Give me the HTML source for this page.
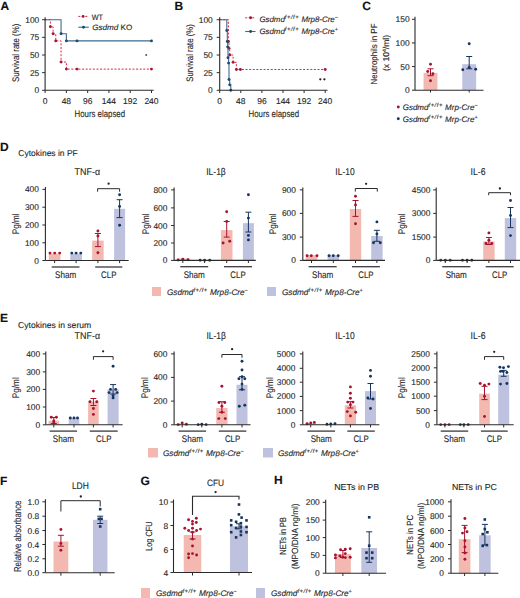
<!DOCTYPE html>
<html><head><meta charset="utf-8"><style>
html,body{margin:0;padding:0;background:#fff;overflow:hidden;}
svg{display:block;}
text{font-family:"Liberation Sans", sans-serif; stroke:currentColor; stroke-width:0.12px; font-variant-ligatures:none; text-rendering:geometricPrecision;}
</style></head><body>
<svg width="520" height="598" viewBox="0 0 520 598">
<rect x="0" y="0" width="520" height="598" fill="#ffffff"/>
<text x="0.60" y="9.90" font-size="12" text-anchor="start" fill="#111" color="#111" font-weight="bold">A</text>
<path d="M45.10 19.70 H50.42 V26.76 H53.08 V33.82 H55.74 V40.88 H61.06 V62.06 H66.38 V69.12 H151.49" stroke="#d42a45" stroke-width="1.0" stroke-dasharray="2,1.6" fill="none"/>
<circle cx="50.42" cy="26.76" r="1.45" fill="#a8132f"/>
<circle cx="53.08" cy="33.82" r="1.45" fill="#a8132f"/>
<circle cx="55.74" cy="40.88" r="1.45" fill="#a8132f"/>
<circle cx="61.06" cy="62.06" r="1.45" fill="#a8132f"/>
<circle cx="66.38" cy="69.12" r="1.45" fill="#a8132f"/>
<circle cx="77.02" cy="69.12" r="1.45" fill="#a8132f"/>
<circle cx="151.49" cy="69.12" r="1.45" fill="#a8132f"/>
<path d="M45.10 19.70 H61.06 V33.82 H66.38 V40.88 H151.49" stroke="#3d6a90" stroke-width="1.1" fill="none"/>
<circle cx="61.06" cy="33.82" r="1.45" fill="#1d4a6e"/>
<circle cx="66.38" cy="40.88" r="1.45" fill="#1d4a6e"/>
<circle cx="77.02" cy="40.88" r="1.45" fill="#1d4a6e"/>
<circle cx="151.49" cy="40.88" r="1.45" fill="#1d4a6e"/>
<line x1="45.10" y1="17.20" x2="45.10" y2="90.30" stroke="#2a2a2a" stroke-width="1.1" stroke-linecap="butt"/>
<line x1="42.10" y1="19.70" x2="45.10" y2="19.70" stroke="#2a2a2a" stroke-width="1.0" stroke-linecap="butt"/>
<text x="39.25" y="22.70" font-size="8.4" text-anchor="end" fill="#262626" color="#262626">100</text>
<line x1="42.10" y1="37.35" x2="45.10" y2="37.35" stroke="#2a2a2a" stroke-width="1.0" stroke-linecap="butt"/>
<text x="39.25" y="40.35" font-size="8.4" text-anchor="end" fill="#262626" color="#262626">75</text>
<line x1="42.10" y1="55.00" x2="45.10" y2="55.00" stroke="#2a2a2a" stroke-width="1.0" stroke-linecap="butt"/>
<text x="39.25" y="58.00" font-size="8.4" text-anchor="end" fill="#262626" color="#262626">50</text>
<line x1="42.10" y1="72.65" x2="45.10" y2="72.65" stroke="#2a2a2a" stroke-width="1.0" stroke-linecap="butt"/>
<text x="39.25" y="75.65" font-size="8.4" text-anchor="end" fill="#262626" color="#262626">25</text>
<line x1="42.10" y1="90.30" x2="45.10" y2="90.30" stroke="#2a2a2a" stroke-width="1.0" stroke-linecap="butt"/>
<text x="39.25" y="93.30" font-size="8.4" text-anchor="end" fill="#262626" color="#262626">0</text>
<line x1="45.10" y1="90.30" x2="153.70" y2="90.30" stroke="#2a2a2a" stroke-width="1.1" stroke-linecap="butt"/>
<line x1="45.10" y1="90.30" x2="45.10" y2="93.00" stroke="#2a2a2a" stroke-width="1.0" stroke-linecap="butt"/>
<text x="45.10" y="103.60" font-size="8.5" text-anchor="middle" fill="#262626" color="#262626">0</text>
<line x1="66.38" y1="90.30" x2="66.38" y2="93.00" stroke="#2a2a2a" stroke-width="1.0" stroke-linecap="butt"/>
<text x="66.38" y="103.60" font-size="8.5" text-anchor="middle" fill="#262626" color="#262626">48</text>
<line x1="87.66" y1="90.30" x2="87.66" y2="93.00" stroke="#2a2a2a" stroke-width="1.0" stroke-linecap="butt"/>
<text x="87.66" y="103.60" font-size="8.5" text-anchor="middle" fill="#262626" color="#262626">96</text>
<line x1="108.94" y1="90.30" x2="108.94" y2="93.00" stroke="#2a2a2a" stroke-width="1.0" stroke-linecap="butt"/>
<text x="108.94" y="103.60" font-size="8.5" text-anchor="middle" fill="#262626" color="#262626">144</text>
<line x1="130.21" y1="90.30" x2="130.21" y2="93.00" stroke="#2a2a2a" stroke-width="1.0" stroke-linecap="butt"/>
<text x="130.21" y="103.60" font-size="8.5" text-anchor="middle" fill="#262626" color="#262626">192</text>
<line x1="151.49" y1="90.30" x2="151.49" y2="93.00" stroke="#2a2a2a" stroke-width="1.0" stroke-linecap="butt"/>
<text x="151.49" y="103.60" font-size="8.5" text-anchor="middle" fill="#262626" color="#262626">240</text>
<text x="99.80" y="117.00" font-size="9.6" text-anchor="middle" fill="#262626" color="#262626" textLength="50.50" lengthAdjust="spacingAndGlyphs">Hours elapsed</text>
<text x="19.00" y="52.80" font-size="9.5" text-anchor="middle" fill="#262626" color="#262626" textLength="58.40" lengthAdjust="spacingAndGlyphs" transform="rotate(-90 19.00 52.80)">Survival rate (%)</text>
<circle cx="146.20" cy="55.00" r="1.0" fill="#555"/>
<line x1="78.30" y1="16.40" x2="87.80" y2="16.40" stroke="#d42a45" stroke-width="1.0" stroke-dasharray="2,1.5" stroke-linecap="butt"/>
<circle cx="83.10" cy="16.40" r="1.45" fill="#a8132f"/>
<text x="91.80" y="19.50" font-size="7.8" text-anchor="start" fill="#262626" color="#262626" textLength="11.20" lengthAdjust="spacingAndGlyphs">WT</text>
<line x1="78.30" y1="27.20" x2="88.80" y2="27.20" stroke="#3d6a90" stroke-width="1.1" stroke-linecap="butt"/>
<circle cx="83.50" cy="27.20" r="1.45" fill="#1d4a6e"/>
<text x="92.20" y="30.30" font-size="7.8" text-anchor="start" fill="#262626" color="#262626" textLength="40.00" lengthAdjust="spacingAndGlyphs"><tspan font-style="italic">Gsdmd</tspan> KO</text>
<text x="174.50" y="9.90" font-size="12" text-anchor="start" fill="#111" color="#111" font-weight="bold">B</text>
<path d="M219.7 19.70 H228.4 H228.40 V41.44 H229.00 V48.36 H229.70 V55.00 H233.10 V62.34 H236.40 V69.47 H325.20" stroke="#d42a45" stroke-width="1.0" stroke-dasharray="2,1.6" fill="none"/>
<circle cx="228.40" cy="41.44" r="1.45" fill="#a8132f"/>
<circle cx="229.00" cy="48.36" r="1.45" fill="#a8132f"/>
<circle cx="229.70" cy="55.00" r="1.45" fill="#a8132f"/>
<circle cx="233.10" cy="62.34" r="1.45" fill="#a8132f"/>
<circle cx="236.40" cy="69.47" r="1.45" fill="#a8132f"/>
<circle cx="240.40" cy="69.47" r="1.45" fill="#a8132f"/>
<circle cx="325.20" cy="69.47" r="1.45" fill="#a8132f"/>
<path d="M219.7 19.70 H226.80 V30.57 H227.30 V41.44 H227.70 V46.88 H228.00 V57.68 H228.60 V63.12 H229.00 V79.43 H229.70 V84.86 H230.80 V90.30" stroke="#3d6a90" stroke-width="1.1" fill="none"/>
<circle cx="226.80" cy="30.57" r="1.45" fill="#1d4a6e"/>
<circle cx="227.30" cy="41.44" r="1.45" fill="#1d4a6e"/>
<circle cx="227.70" cy="46.88" r="1.45" fill="#1d4a6e"/>
<circle cx="228.00" cy="57.68" r="1.45" fill="#1d4a6e"/>
<circle cx="228.60" cy="63.12" r="1.45" fill="#1d4a6e"/>
<circle cx="229.00" cy="79.43" r="1.45" fill="#1d4a6e"/>
<circle cx="229.70" cy="84.86" r="1.45" fill="#1d4a6e"/>
<circle cx="230.80" cy="90.30" r="1.45" fill="#1d4a6e"/>
<line x1="219.70" y1="17.20" x2="219.70" y2="90.30" stroke="#2a2a2a" stroke-width="1.1" stroke-linecap="butt"/>
<line x1="216.70" y1="19.70" x2="219.70" y2="19.70" stroke="#2a2a2a" stroke-width="1.0" stroke-linecap="butt"/>
<text x="212.75" y="22.70" font-size="8.4" text-anchor="end" fill="#262626" color="#262626">100</text>
<line x1="216.70" y1="37.35" x2="219.70" y2="37.35" stroke="#2a2a2a" stroke-width="1.0" stroke-linecap="butt"/>
<text x="212.75" y="40.35" font-size="8.4" text-anchor="end" fill="#262626" color="#262626">75</text>
<line x1="216.70" y1="55.00" x2="219.70" y2="55.00" stroke="#2a2a2a" stroke-width="1.0" stroke-linecap="butt"/>
<text x="212.75" y="58.00" font-size="8.4" text-anchor="end" fill="#262626" color="#262626">50</text>
<line x1="216.70" y1="72.65" x2="219.70" y2="72.65" stroke="#2a2a2a" stroke-width="1.0" stroke-linecap="butt"/>
<text x="212.75" y="75.65" font-size="8.4" text-anchor="end" fill="#262626" color="#262626">25</text>
<line x1="216.70" y1="90.30" x2="219.70" y2="90.30" stroke="#2a2a2a" stroke-width="1.0" stroke-linecap="butt"/>
<text x="212.75" y="93.30" font-size="8.4" text-anchor="end" fill="#262626" color="#262626">0</text>
<line x1="219.70" y1="90.30" x2="327.50" y2="90.30" stroke="#2a2a2a" stroke-width="1.1" stroke-linecap="butt"/>
<line x1="219.70" y1="90.30" x2="219.70" y2="93.00" stroke="#2a2a2a" stroke-width="1.0" stroke-linecap="butt"/>
<text x="219.70" y="103.60" font-size="8.5" text-anchor="middle" fill="#262626" color="#262626">0</text>
<line x1="240.80" y1="90.30" x2="240.80" y2="93.00" stroke="#2a2a2a" stroke-width="1.0" stroke-linecap="butt"/>
<text x="240.80" y="103.60" font-size="8.5" text-anchor="middle" fill="#262626" color="#262626">48</text>
<line x1="261.90" y1="90.30" x2="261.90" y2="93.00" stroke="#2a2a2a" stroke-width="1.0" stroke-linecap="butt"/>
<text x="261.90" y="103.60" font-size="8.5" text-anchor="middle" fill="#262626" color="#262626">96</text>
<line x1="283.00" y1="90.30" x2="283.00" y2="93.00" stroke="#2a2a2a" stroke-width="1.0" stroke-linecap="butt"/>
<text x="283.00" y="103.60" font-size="8.5" text-anchor="middle" fill="#262626" color="#262626">144</text>
<line x1="304.10" y1="90.30" x2="304.10" y2="93.00" stroke="#2a2a2a" stroke-width="1.0" stroke-linecap="butt"/>
<text x="304.10" y="103.60" font-size="8.5" text-anchor="middle" fill="#262626" color="#262626">192</text>
<line x1="325.20" y1="90.30" x2="325.20" y2="93.00" stroke="#2a2a2a" stroke-width="1.0" stroke-linecap="butt"/>
<text x="325.20" y="103.60" font-size="8.5" text-anchor="middle" fill="#262626" color="#262626">240</text>
<text x="273.80" y="117.00" font-size="9.6" text-anchor="middle" fill="#262626" color="#262626" textLength="50.50" lengthAdjust="spacingAndGlyphs">Hours elapsed</text>
<text x="192.60" y="53.00" font-size="9.5" text-anchor="middle" fill="#262626" color="#262626" textLength="57.50" lengthAdjust="spacingAndGlyphs" transform="rotate(-90 192.60 53.00)">Survival rate (%)</text>
<circle cx="320.30" cy="79.30" r="1.15" fill="#222"/>
<circle cx="324.40" cy="79.30" r="1.15" fill="#222"/>
<line x1="245.20" y1="17.80" x2="255.60" y2="17.80" stroke="#d42a45" stroke-width="1.0" stroke-dasharray="2,1.5" stroke-linecap="butt"/>
<circle cx="250.60" cy="17.80" r="1.45" fill="#a8132f"/>
<text x="259.40" y="21.50" font-size="7.9" text-anchor="start" fill="#262626" color="#262626"><tspan font-style="italic">Gsdmd</tspan><tspan font-size="5.8" dy="-3.0" font-style="italic" letter-spacing="0.55">f+/f+</tspan><tspan dy="3.0" font-style="italic"> Mrp8-Cre</tspan><tspan font-size="5.6" dy="-3.0">−</tspan></text>
<line x1="245.20" y1="31.50" x2="255.60" y2="31.50" stroke="#3d6a90" stroke-width="1.1" stroke-linecap="butt"/>
<circle cx="250.60" cy="31.50" r="1.45" fill="#1d4a6e"/>
<text x="259.40" y="33.70" font-size="7.9" text-anchor="start" fill="#262626" color="#262626"><tspan font-style="italic">Gsdmd</tspan><tspan font-size="5.8" dy="-3.0" font-style="italic" letter-spacing="0.55">f+/f+</tspan><tspan dy="3.0" font-style="italic"> Mrp8-Cre</tspan><tspan font-size="5.6" dy="-3.0">+</tspan></text>
<text x="362.30" y="9.90" font-size="12" text-anchor="start" fill="#111" color="#111" font-weight="bold">C</text>
<rect x="423.55" y="72.90" width="13.90" height="17.10" fill="#f3b9b1"/>
<rect x="462.25" y="64.20" width="13.90" height="25.80" fill="#bec2df"/>
<line x1="430.50" y1="68.80" x2="430.50" y2="75.70" stroke="#a8132f" stroke-width="1.0" stroke-linecap="butt"/>
<line x1="427.50" y1="68.80" x2="433.50" y2="68.80" stroke="#a8132f" stroke-width="1.0" stroke-linecap="butt"/>
<line x1="427.50" y1="75.70" x2="433.50" y2="75.70" stroke="#a8132f" stroke-width="1.0" stroke-linecap="butt"/>
<line x1="469.20" y1="56.50" x2="469.20" y2="68.80" stroke="#15355f" stroke-width="1.0" stroke-linecap="butt"/>
<line x1="466.20" y1="56.50" x2="472.20" y2="56.50" stroke="#15355f" stroke-width="1.0" stroke-linecap="butt"/>
<line x1="466.20" y1="68.80" x2="472.20" y2="68.80" stroke="#15355f" stroke-width="1.0" stroke-linecap="butt"/>
<circle cx="430.50" cy="64.20" r="1.45" fill="#a8132f"/>
<circle cx="427.70" cy="71.50" r="1.45" fill="#a8132f"/>
<circle cx="432.90" cy="73.80" r="1.45" fill="#a8132f"/>
<circle cx="430.50" cy="80.80" r="1.45" fill="#a8132f"/>
<circle cx="469.20" cy="43.80" r="1.45" fill="#15355f"/>
<circle cx="462.80" cy="69.70" r="1.45" fill="#15355f"/>
<circle cx="469.20" cy="67.40" r="1.45" fill="#15355f"/>
<circle cx="475.70" cy="69.20" r="1.45" fill="#15355f"/>
<line x1="415.00" y1="16.80" x2="415.00" y2="90.20" stroke="#2a2a2a" stroke-width="1.1" stroke-linecap="butt"/>
<line x1="412.00" y1="19.30" x2="415.00" y2="19.30" stroke="#2a2a2a" stroke-width="1.0" stroke-linecap="butt"/>
<text x="409.55" y="22.30" font-size="8.4" text-anchor="end" fill="#262626" color="#262626">150</text>
<line x1="412.00" y1="42.93" x2="415.00" y2="42.93" stroke="#2a2a2a" stroke-width="1.0" stroke-linecap="butt"/>
<text x="409.55" y="45.93" font-size="8.4" text-anchor="end" fill="#262626" color="#262626">100</text>
<line x1="412.00" y1="66.56" x2="415.00" y2="66.56" stroke="#2a2a2a" stroke-width="1.0" stroke-linecap="butt"/>
<text x="409.55" y="69.56" font-size="8.4" text-anchor="end" fill="#262626" color="#262626">50</text>
<line x1="412.00" y1="90.20" x2="415.00" y2="90.20" stroke="#2a2a2a" stroke-width="1.0" stroke-linecap="butt"/>
<text x="409.55" y="93.20" font-size="8.4" text-anchor="end" fill="#262626" color="#262626">0</text>
<line x1="415.00" y1="90.20" x2="483.50" y2="90.20" stroke="#2a2a2a" stroke-width="1.1" stroke-linecap="butt"/>
<line x1="430.50" y1="90.00" x2="430.50" y2="92.50" stroke="#2a2a2a" stroke-width="1.0" stroke-linecap="butt"/>
<line x1="469.20" y1="90.00" x2="469.20" y2="92.50" stroke="#2a2a2a" stroke-width="1.0" stroke-linecap="butt"/>
<text x="376.60" y="54.00" font-size="8.8" text-anchor="middle" fill="#262626" color="#262626" textLength="61.00" lengthAdjust="spacingAndGlyphs" transform="rotate(-90 376.60 54.00)">Neutrophils in PF</text>
<text x="388.80" y="53.00" font-size="8.6" text-anchor="middle" fill="#262626" color="#262626" transform="rotate(-90 388.80 53.00)">(x 10<tspan font-size="5" dy="-3">4</tspan><tspan dy="3">/ml)</tspan></text>
<circle cx="398.30" cy="107.00" r="1.45" fill="#a8132f"/>
<text x="402.70" y="109.60" font-size="8.0" text-anchor="start" fill="#262626" color="#262626"><tspan font-style="italic">Gsdmd</tspan><tspan font-size="5.8" dy="-3.0" font-style="italic" letter-spacing="0.55">f+/f+</tspan><tspan dy="3.0" font-style="italic"> Mrp-Cre</tspan><tspan font-size="5.6" dy="-3.0">−</tspan></text>
<circle cx="398.30" cy="118.70" r="1.45" fill="#15355f"/>
<text x="402.70" y="121.90" font-size="8.0" text-anchor="start" fill="#262626" color="#262626"><tspan font-style="italic">Gsdmd</tspan><tspan font-size="5.8" dy="-3.0" font-style="italic" letter-spacing="0.55">f+/f+</tspan><tspan dy="3.0" font-style="italic"> Mrp-Cre</tspan><tspan font-size="5.6" dy="-3.0">+</tspan></text>
<text x="0.10" y="151.00" font-size="12" text-anchor="start" fill="#111" color="#111" font-weight="bold">D</text>
<text x="18.30" y="155.80" font-size="8.5" text-anchor="start" fill="#262626" color="#262626" textLength="59.50" lengthAdjust="spacingAndGlyphs">Cytokines in PF</text>
<rect x="48.75" y="253.60" width="11.70" height="6.90" fill="#f3b9b1"/>
<rect x="70.25" y="253.60" width="11.70" height="6.90" fill="#bec2df"/>
<rect x="92.15" y="240.60" width="11.50" height="19.90" fill="#f3b9b1"/>
<rect x="114.10" y="208.80" width="11.00" height="51.70" fill="#bec2df"/>
<circle cx="50.00" cy="253.10" r="1.45" fill="#a8132f"/>
<circle cx="54.70" cy="253.10" r="1.45" fill="#a8132f"/>
<circle cx="59.70" cy="253.10" r="1.45" fill="#a8132f"/>
<circle cx="71.80" cy="253.10" r="1.45" fill="#15355f"/>
<circle cx="76.10" cy="253.10" r="1.45" fill="#15355f"/>
<circle cx="80.80" cy="253.10" r="1.45" fill="#15355f"/>
<line x1="97.90" y1="233.50" x2="97.90" y2="246.60" stroke="#a8132f" stroke-width="1.0" stroke-linecap="butt"/>
<line x1="94.90" y1="233.50" x2="100.90" y2="233.50" stroke="#a8132f" stroke-width="1.0" stroke-linecap="butt"/>
<line x1="94.90" y1="246.60" x2="100.90" y2="246.60" stroke="#a8132f" stroke-width="1.0" stroke-linecap="butt"/>
<circle cx="97.90" cy="231.00" r="1.45" fill="#a8132f"/>
<circle cx="97.90" cy="236.00" r="1.45" fill="#a8132f"/>
<circle cx="97.90" cy="252.80" r="1.45" fill="#a8132f"/>
<line x1="119.60" y1="199.70" x2="119.60" y2="217.60" stroke="#15355f" stroke-width="1.0" stroke-linecap="butt"/>
<line x1="116.60" y1="199.70" x2="122.60" y2="199.70" stroke="#15355f" stroke-width="1.0" stroke-linecap="butt"/>
<line x1="116.60" y1="217.60" x2="122.60" y2="217.60" stroke="#15355f" stroke-width="1.0" stroke-linecap="butt"/>
<circle cx="119.60" cy="194.70" r="1.45" fill="#15355f"/>
<circle cx="119.60" cy="206.40" r="1.45" fill="#15355f"/>
<circle cx="119.60" cy="225.20" r="1.45" fill="#15355f"/>
<line x1="45.40" y1="186.90" x2="45.40" y2="260.50" stroke="#2a2a2a" stroke-width="1.1" stroke-linecap="butt"/>
<line x1="42.40" y1="189.40" x2="45.40" y2="189.40" stroke="#2a2a2a" stroke-width="1.0" stroke-linecap="butt"/>
<text x="38.95" y="192.40" font-size="8.4" text-anchor="end" fill="#262626" color="#262626">400</text>
<line x1="42.40" y1="207.20" x2="45.40" y2="207.20" stroke="#2a2a2a" stroke-width="1.0" stroke-linecap="butt"/>
<text x="38.95" y="210.20" font-size="8.4" text-anchor="end" fill="#262626" color="#262626">300</text>
<line x1="42.40" y1="225.00" x2="45.40" y2="225.00" stroke="#2a2a2a" stroke-width="1.0" stroke-linecap="butt"/>
<text x="38.95" y="228.00" font-size="8.4" text-anchor="end" fill="#262626" color="#262626">200</text>
<line x1="42.40" y1="242.80" x2="45.40" y2="242.80" stroke="#2a2a2a" stroke-width="1.0" stroke-linecap="butt"/>
<text x="38.95" y="245.80" font-size="8.4" text-anchor="end" fill="#262626" color="#262626">100</text>
<line x1="42.40" y1="260.50" x2="45.40" y2="260.50" stroke="#2a2a2a" stroke-width="1.0" stroke-linecap="butt"/>
<text x="38.95" y="263.50" font-size="8.4" text-anchor="end" fill="#262626" color="#262626">0</text>
<line x1="45.40" y1="260.50" x2="128.70" y2="260.50" stroke="#2a2a2a" stroke-width="1.1" stroke-linecap="butt"/>
<line x1="54.60" y1="260.50" x2="54.60" y2="263.10" stroke="#2a2a2a" stroke-width="1.0" stroke-linecap="butt"/>
<line x1="76.10" y1="260.50" x2="76.10" y2="263.10" stroke="#2a2a2a" stroke-width="1.0" stroke-linecap="butt"/>
<line x1="97.90" y1="260.50" x2="97.90" y2="263.10" stroke="#2a2a2a" stroke-width="1.0" stroke-linecap="butt"/>
<line x1="119.60" y1="260.50" x2="119.60" y2="263.10" stroke="#2a2a2a" stroke-width="1.0" stroke-linecap="butt"/>
<path d="M97.60 191.70 V188.70 H119.60 V191.70" stroke="#2a2a2a" stroke-width="1.0" fill="none"/>
<circle cx="108.60" cy="183.70" r="1.15" fill="#222"/>
<line x1="51.70" y1="267.00" x2="79.50" y2="267.00" stroke="#3a3a3a" stroke-width="1.3" stroke-linecap="butt"/>
<line x1="95.20" y1="267.00" x2="122.30" y2="267.00" stroke="#3a3a3a" stroke-width="1.3" stroke-linecap="butt"/>
<text x="65.60" y="278.30" font-size="9.5" text-anchor="middle" fill="#262626" color="#262626" textLength="21.20" lengthAdjust="spacingAndGlyphs">Sham</text>
<text x="108.75" y="278.30" font-size="9.5" text-anchor="middle" fill="#262626" color="#262626" textLength="15.30" lengthAdjust="spacingAndGlyphs">CLP</text>
<text x="18.80" y="223.80" font-size="9.6" text-anchor="middle" fill="#262626" color="#262626" textLength="21.00" lengthAdjust="spacingAndGlyphs" transform="rotate(-90 18.80 223.80)">Pg/ml</text>
<text x="87.30" y="175.00" font-size="9.9" text-anchor="middle" fill="#262626" color="#262626" textLength="25.50" lengthAdjust="spacingAndGlyphs">TNF-α</text>
<rect x="177.05" y="258.50" width="11.50" height="1.90" fill="#f3b9b1"/>
<rect x="198.85" y="260.00" width="11.50" height="0.40" fill="#bec2df"/>
<rect x="220.90" y="230.10" width="11.60" height="30.30" fill="#f3b9b1"/>
<rect x="242.90" y="223.20" width="11.00" height="37.20" fill="#bec2df"/>
<circle cx="178.10" cy="260.00" r="1.45" fill="#a8132f"/>
<circle cx="182.80" cy="259.30" r="1.45" fill="#a8132f"/>
<circle cx="188.10" cy="259.80" r="1.45" fill="#a8132f"/>
<circle cx="200.10" cy="260.20" r="1.45" fill="#15355f"/>
<circle cx="204.60" cy="260.20" r="1.45" fill="#15355f"/>
<circle cx="209.70" cy="260.20" r="1.45" fill="#15355f"/>
<line x1="226.70" y1="221.50" x2="226.70" y2="237.10" stroke="#a8132f" stroke-width="1.0" stroke-linecap="butt"/>
<line x1="223.70" y1="221.50" x2="229.70" y2="221.50" stroke="#a8132f" stroke-width="1.0" stroke-linecap="butt"/>
<line x1="223.70" y1="237.10" x2="229.70" y2="237.10" stroke="#a8132f" stroke-width="1.0" stroke-linecap="butt"/>
<circle cx="226.70" cy="211.70" r="1.45" fill="#a8132f"/>
<circle cx="226.70" cy="221.50" r="1.45" fill="#a8132f"/>
<circle cx="223.10" cy="243.00" r="1.45" fill="#a8132f"/>
<circle cx="229.70" cy="241.30" r="1.45" fill="#a8132f"/>
<line x1="248.40" y1="212.20" x2="248.40" y2="232.00" stroke="#15355f" stroke-width="1.0" stroke-linecap="butt"/>
<line x1="245.40" y1="212.20" x2="251.40" y2="212.20" stroke="#15355f" stroke-width="1.0" stroke-linecap="butt"/>
<line x1="245.40" y1="232.00" x2="251.40" y2="232.00" stroke="#15355f" stroke-width="1.0" stroke-linecap="butt"/>
<circle cx="248.40" cy="194.80" r="1.45" fill="#15355f"/>
<circle cx="248.40" cy="218.10" r="1.45" fill="#15355f"/>
<circle cx="248.40" cy="235.40" r="1.45" fill="#15355f"/>
<circle cx="248.40" cy="239.90" r="1.45" fill="#15355f"/>
<line x1="174.10" y1="187.40" x2="174.10" y2="260.40" stroke="#2a2a2a" stroke-width="1.1" stroke-linecap="butt"/>
<line x1="171.10" y1="189.90" x2="174.10" y2="189.90" stroke="#2a2a2a" stroke-width="1.0" stroke-linecap="butt"/>
<text x="167.45" y="192.90" font-size="8.4" text-anchor="end" fill="#262626" color="#262626">800</text>
<line x1="171.10" y1="207.90" x2="174.10" y2="207.90" stroke="#2a2a2a" stroke-width="1.0" stroke-linecap="butt"/>
<text x="167.45" y="210.90" font-size="8.4" text-anchor="end" fill="#262626" color="#262626">600</text>
<line x1="171.10" y1="225.50" x2="174.10" y2="225.50" stroke="#2a2a2a" stroke-width="1.0" stroke-linecap="butt"/>
<text x="167.45" y="228.50" font-size="8.4" text-anchor="end" fill="#262626" color="#262626">400</text>
<line x1="171.10" y1="243.00" x2="174.10" y2="243.00" stroke="#2a2a2a" stroke-width="1.0" stroke-linecap="butt"/>
<text x="167.45" y="246.00" font-size="8.4" text-anchor="end" fill="#262626" color="#262626">200</text>
<line x1="171.10" y1="260.40" x2="174.10" y2="260.40" stroke="#2a2a2a" stroke-width="1.0" stroke-linecap="butt"/>
<text x="167.45" y="263.40" font-size="8.4" text-anchor="end" fill="#262626" color="#262626">0</text>
<line x1="174.10" y1="260.40" x2="255.80" y2="260.40" stroke="#2a2a2a" stroke-width="1.1" stroke-linecap="butt"/>
<line x1="182.80" y1="260.40" x2="182.80" y2="263.00" stroke="#2a2a2a" stroke-width="1.0" stroke-linecap="butt"/>
<line x1="204.60" y1="260.40" x2="204.60" y2="263.00" stroke="#2a2a2a" stroke-width="1.0" stroke-linecap="butt"/>
<line x1="226.70" y1="260.40" x2="226.70" y2="263.00" stroke="#2a2a2a" stroke-width="1.0" stroke-linecap="butt"/>
<line x1="248.40" y1="260.40" x2="248.40" y2="263.00" stroke="#2a2a2a" stroke-width="1.0" stroke-linecap="butt"/>
<line x1="180.30" y1="266.70" x2="208.20" y2="266.70" stroke="#3a3a3a" stroke-width="1.3" stroke-linecap="butt"/>
<line x1="224.00" y1="266.70" x2="252.00" y2="266.70" stroke="#3a3a3a" stroke-width="1.3" stroke-linecap="butt"/>
<text x="194.25" y="278.30" font-size="9.5" text-anchor="middle" fill="#262626" color="#262626" textLength="21.20" lengthAdjust="spacingAndGlyphs">Sham</text>
<text x="238.00" y="278.30" font-size="9.5" text-anchor="middle" fill="#262626" color="#262626" textLength="15.30" lengthAdjust="spacingAndGlyphs">CLP</text>
<text x="148.80" y="223.80" font-size="9.6" text-anchor="middle" fill="#262626" color="#262626" textLength="21.00" lengthAdjust="spacingAndGlyphs" transform="rotate(-90 148.80 223.80)">Pg/ml</text>
<text x="216.00" y="175.00" font-size="9.9" text-anchor="middle" fill="#262626" color="#262626" textLength="19.50" lengthAdjust="spacingAndGlyphs">IL-1β</text>
<rect x="305.75" y="255.10" width="11.50" height="5.30" fill="#f3b9b1"/>
<rect x="327.55" y="255.10" width="11.50" height="5.30" fill="#bec2df"/>
<rect x="349.80" y="209.00" width="11.40" height="51.40" fill="#f3b9b1"/>
<rect x="371.20" y="236.00" width="11.40" height="24.40" fill="#bec2df"/>
<circle cx="307.10" cy="255.70" r="1.45" fill="#a8132f"/>
<circle cx="311.30" cy="255.70" r="1.45" fill="#a8132f"/>
<circle cx="317.00" cy="255.70" r="1.45" fill="#a8132f"/>
<circle cx="329.10" cy="255.70" r="1.45" fill="#15355f"/>
<circle cx="333.30" cy="255.70" r="1.45" fill="#15355f"/>
<circle cx="338.20" cy="255.70" r="1.45" fill="#15355f"/>
<line x1="355.50" y1="200.50" x2="355.50" y2="216.40" stroke="#a8132f" stroke-width="1.0" stroke-linecap="butt"/>
<line x1="352.50" y1="200.50" x2="358.50" y2="200.50" stroke="#a8132f" stroke-width="1.0" stroke-linecap="butt"/>
<line x1="352.50" y1="216.40" x2="358.50" y2="216.40" stroke="#a8132f" stroke-width="1.0" stroke-linecap="butt"/>
<circle cx="355.50" cy="196.30" r="1.45" fill="#a8132f"/>
<circle cx="355.50" cy="205.00" r="1.45" fill="#a8132f"/>
<circle cx="355.50" cy="223.80" r="1.45" fill="#a8132f"/>
<line x1="376.90" y1="230.30" x2="376.90" y2="241.30" stroke="#15355f" stroke-width="1.0" stroke-linecap="butt"/>
<line x1="373.90" y1="230.30" x2="379.90" y2="230.30" stroke="#15355f" stroke-width="1.0" stroke-linecap="butt"/>
<line x1="373.90" y1="241.30" x2="379.90" y2="241.30" stroke="#15355f" stroke-width="1.0" stroke-linecap="butt"/>
<circle cx="376.90" cy="221.90" r="1.45" fill="#15355f"/>
<circle cx="376.90" cy="234.00" r="1.45" fill="#15355f"/>
<circle cx="373.50" cy="242.80" r="1.45" fill="#15355f"/>
<circle cx="380.30" cy="242.80" r="1.45" fill="#15355f"/>
<line x1="302.80" y1="187.40" x2="302.80" y2="260.40" stroke="#2a2a2a" stroke-width="1.1" stroke-linecap="butt"/>
<line x1="299.80" y1="189.90" x2="302.80" y2="189.90" stroke="#2a2a2a" stroke-width="1.0" stroke-linecap="butt"/>
<text x="295.95" y="192.90" font-size="8.4" text-anchor="end" fill="#262626" color="#262626">900</text>
<line x1="299.80" y1="213.40" x2="302.80" y2="213.40" stroke="#2a2a2a" stroke-width="1.0" stroke-linecap="butt"/>
<text x="295.95" y="216.40" font-size="8.4" text-anchor="end" fill="#262626" color="#262626">600</text>
<line x1="299.80" y1="237.10" x2="302.80" y2="237.10" stroke="#2a2a2a" stroke-width="1.0" stroke-linecap="butt"/>
<text x="295.95" y="240.10" font-size="8.4" text-anchor="end" fill="#262626" color="#262626">300</text>
<line x1="299.80" y1="260.40" x2="302.80" y2="260.40" stroke="#2a2a2a" stroke-width="1.0" stroke-linecap="butt"/>
<text x="295.95" y="263.40" font-size="8.4" text-anchor="end" fill="#262626" color="#262626">0</text>
<line x1="302.80" y1="260.40" x2="385.00" y2="260.40" stroke="#2a2a2a" stroke-width="1.1" stroke-linecap="butt"/>
<line x1="311.50" y1="260.40" x2="311.50" y2="263.00" stroke="#2a2a2a" stroke-width="1.0" stroke-linecap="butt"/>
<line x1="333.30" y1="260.40" x2="333.30" y2="263.00" stroke="#2a2a2a" stroke-width="1.0" stroke-linecap="butt"/>
<line x1="355.50" y1="260.40" x2="355.50" y2="263.00" stroke="#2a2a2a" stroke-width="1.0" stroke-linecap="butt"/>
<line x1="376.90" y1="260.40" x2="376.90" y2="263.00" stroke="#2a2a2a" stroke-width="1.0" stroke-linecap="butt"/>
<path d="M355.30 191.60 V188.50 H377.30 V191.60" stroke="#2a2a2a" stroke-width="1.0" fill="none"/>
<circle cx="366.10" cy="183.80" r="1.15" fill="#222"/>
<line x1="308.60" y1="266.70" x2="336.70" y2="266.70" stroke="#3a3a3a" stroke-width="1.3" stroke-linecap="butt"/>
<line x1="352.00" y1="266.70" x2="379.90" y2="266.70" stroke="#3a3a3a" stroke-width="1.3" stroke-linecap="butt"/>
<text x="322.65" y="278.30" font-size="9.5" text-anchor="middle" fill="#262626" color="#262626" textLength="21.20" lengthAdjust="spacingAndGlyphs">Sham</text>
<text x="365.95" y="278.30" font-size="9.5" text-anchor="middle" fill="#262626" color="#262626" textLength="15.30" lengthAdjust="spacingAndGlyphs">CLP</text>
<text x="276.30" y="223.80" font-size="9.6" text-anchor="middle" fill="#262626" color="#262626" textLength="21.00" lengthAdjust="spacingAndGlyphs" transform="rotate(-90 276.30 223.80)">Pg/ml</text>
<text x="345.00" y="175.00" font-size="9.9" text-anchor="middle" fill="#262626" color="#262626" textLength="19.30" lengthAdjust="spacingAndGlyphs">IL-10</text>
<rect x="439.55" y="260.00" width="11.50" height="0.40" fill="#f3b9b1"/>
<rect x="461.35" y="260.00" width="11.50" height="0.40" fill="#bec2df"/>
<rect x="483.20" y="241.30" width="11.40" height="19.10" fill="#f3b9b1"/>
<rect x="504.80" y="218.10" width="11.40" height="42.30" fill="#bec2df"/>
<circle cx="440.70" cy="260.20" r="1.45" fill="#a8132f"/>
<circle cx="445.30" cy="260.20" r="1.45" fill="#a8132f"/>
<circle cx="450.20" cy="260.20" r="1.45" fill="#a8132f"/>
<circle cx="462.50" cy="260.20" r="1.45" fill="#15355f"/>
<circle cx="467.10" cy="260.20" r="1.45" fill="#15355f"/>
<circle cx="471.80" cy="260.20" r="1.45" fill="#15355f"/>
<line x1="488.90" y1="237.50" x2="488.90" y2="244.50" stroke="#a8132f" stroke-width="1.0" stroke-linecap="butt"/>
<line x1="485.90" y1="237.50" x2="491.90" y2="237.50" stroke="#a8132f" stroke-width="1.0" stroke-linecap="butt"/>
<line x1="485.90" y1="244.50" x2="491.90" y2="244.50" stroke="#a8132f" stroke-width="1.0" stroke-linecap="butt"/>
<circle cx="488.90" cy="232.90" r="1.45" fill="#a8132f"/>
<circle cx="488.90" cy="240.30" r="1.45" fill="#a8132f"/>
<circle cx="486.00" cy="243.50" r="1.45" fill="#a8132f"/>
<circle cx="491.80" cy="243.50" r="1.45" fill="#a8132f"/>
<line x1="510.50" y1="207.50" x2="510.50" y2="227.60" stroke="#15355f" stroke-width="1.0" stroke-linecap="butt"/>
<line x1="507.50" y1="207.50" x2="513.50" y2="207.50" stroke="#15355f" stroke-width="1.0" stroke-linecap="butt"/>
<line x1="507.50" y1="227.60" x2="513.50" y2="227.60" stroke="#15355f" stroke-width="1.0" stroke-linecap="butt"/>
<circle cx="510.50" cy="200.50" r="1.45" fill="#15355f"/>
<circle cx="510.50" cy="215.50" r="1.45" fill="#15355f"/>
<circle cx="510.50" cy="235.60" r="1.45" fill="#15355f"/>
<line x1="436.20" y1="187.40" x2="436.20" y2="260.40" stroke="#2a2a2a" stroke-width="1.1" stroke-linecap="butt"/>
<line x1="433.20" y1="189.90" x2="436.20" y2="189.90" stroke="#2a2a2a" stroke-width="1.0" stroke-linecap="butt"/>
<text x="430.45" y="192.90" font-size="8.4" text-anchor="end" fill="#262626" color="#262626">4500</text>
<line x1="433.20" y1="213.40" x2="436.20" y2="213.40" stroke="#2a2a2a" stroke-width="1.0" stroke-linecap="butt"/>
<text x="430.45" y="216.40" font-size="8.4" text-anchor="end" fill="#262626" color="#262626">3000</text>
<line x1="433.20" y1="237.10" x2="436.20" y2="237.10" stroke="#2a2a2a" stroke-width="1.0" stroke-linecap="butt"/>
<text x="430.45" y="240.10" font-size="8.4" text-anchor="end" fill="#262626" color="#262626">1500</text>
<line x1="433.20" y1="260.40" x2="436.20" y2="260.40" stroke="#2a2a2a" stroke-width="1.0" stroke-linecap="butt"/>
<text x="430.45" y="263.40" font-size="8.4" text-anchor="end" fill="#262626" color="#262626">0</text>
<line x1="436.20" y1="260.40" x2="520.00" y2="260.40" stroke="#2a2a2a" stroke-width="1.1" stroke-linecap="butt"/>
<line x1="445.30" y1="260.40" x2="445.30" y2="263.00" stroke="#2a2a2a" stroke-width="1.0" stroke-linecap="butt"/>
<line x1="467.10" y1="260.40" x2="467.10" y2="263.00" stroke="#2a2a2a" stroke-width="1.0" stroke-linecap="butt"/>
<line x1="488.90" y1="260.40" x2="488.90" y2="263.00" stroke="#2a2a2a" stroke-width="1.0" stroke-linecap="butt"/>
<line x1="510.50" y1="260.40" x2="510.50" y2="263.00" stroke="#2a2a2a" stroke-width="1.0" stroke-linecap="butt"/>
<path d="M488.70 195.20 V192.70 H510.50 V195.20" stroke="#2a2a2a" stroke-width="1.0" fill="none"/>
<circle cx="499.90" cy="188.50" r="1.15" fill="#222"/>
<line x1="442.20" y1="266.70" x2="470.30" y2="266.70" stroke="#3a3a3a" stroke-width="1.3" stroke-linecap="butt"/>
<line x1="485.70" y1="266.70" x2="513.70" y2="266.70" stroke="#3a3a3a" stroke-width="1.3" stroke-linecap="butt"/>
<text x="456.25" y="278.30" font-size="9.5" text-anchor="middle" fill="#262626" color="#262626" textLength="21.20" lengthAdjust="spacingAndGlyphs">Sham</text>
<text x="499.70" y="278.30" font-size="9.5" text-anchor="middle" fill="#262626" color="#262626" textLength="15.30" lengthAdjust="spacingAndGlyphs">CLP</text>
<text x="404.80" y="223.80" font-size="9.6" text-anchor="middle" fill="#262626" color="#262626" textLength="21.00" lengthAdjust="spacingAndGlyphs" transform="rotate(-90 404.80 223.80)">Pg/ml</text>
<text x="478.00" y="175.00" font-size="9.9" text-anchor="middle" fill="#262626" color="#262626" textLength="15.00" lengthAdjust="spacingAndGlyphs">IL-6</text>
<rect x="152.00" y="287.00" width="9.00" height="9.00" fill="#f3b9b1"/>
<text x="167.00" y="294.50" font-size="8.2" text-anchor="start" fill="#262626" color="#262626"><tspan font-style="italic">Gsdmd</tspan><tspan font-size="5.8" dy="-3.0" font-style="italic" letter-spacing="0.55">f+/f+</tspan><tspan dy="3.0" font-style="italic"> Mrp8-Cre</tspan><tspan font-size="5.6" dy="-3.0">−</tspan></text>
<rect x="267.00" y="287.00" width="9.00" height="9.00" fill="#bec2df"/>
<text x="282.00" y="294.50" font-size="8.2" text-anchor="start" fill="#262626" color="#262626"><tspan font-style="italic">Gsdmd</tspan><tspan font-size="5.8" dy="-3.0" font-style="italic" letter-spacing="0.55">f+/f+</tspan><tspan dy="3.0" font-style="italic"> Mrp8-Cre</tspan><tspan font-size="5.6" dy="-3.0">+</tspan></text>
<text x="0.10" y="322.40" font-size="12" text-anchor="start" fill="#111" color="#111" font-weight="bold">E</text>
<text x="18.10" y="327.50" font-size="8.5" text-anchor="start" fill="#262626" color="#262626" textLength="73.10" lengthAdjust="spacingAndGlyphs">Cytokines in serum</text>
<rect x="48.50" y="420.70" width="10.60" height="4.10" fill="#f3b9b1"/>
<rect x="68.70" y="418.00" width="10.60" height="6.80" fill="#bec2df"/>
<rect x="88.10" y="401.50" width="10.60" height="23.30" fill="#f3b9b1"/>
<rect x="107.60" y="389.40" width="11.00" height="35.40" fill="#bec2df"/>
<line x1="53.80" y1="417.50" x2="53.80" y2="423.50" stroke="#a8132f" stroke-width="1.0" stroke-linecap="butt"/>
<line x1="50.80" y1="417.50" x2="56.80" y2="417.50" stroke="#a8132f" stroke-width="1.0" stroke-linecap="butt"/>
<line x1="50.80" y1="423.50" x2="56.80" y2="423.50" stroke="#a8132f" stroke-width="1.0" stroke-linecap="butt"/>
<circle cx="51.30" cy="417.30" r="1.45" fill="#a8132f"/>
<circle cx="56.40" cy="417.30" r="1.45" fill="#a8132f"/>
<circle cx="53.80" cy="421.00" r="1.45" fill="#a8132f"/>
<circle cx="53.80" cy="423.00" r="1.45" fill="#a8132f"/>
<circle cx="70.30" cy="418.00" r="1.45" fill="#15355f"/>
<circle cx="74.00" cy="418.00" r="1.45" fill="#15355f"/>
<circle cx="77.50" cy="418.00" r="1.45" fill="#15355f"/>
<line x1="93.40" y1="398.50" x2="93.40" y2="405.50" stroke="#a8132f" stroke-width="1.0" stroke-linecap="butt"/>
<line x1="90.40" y1="398.50" x2="96.40" y2="398.50" stroke="#a8132f" stroke-width="1.0" stroke-linecap="butt"/>
<line x1="90.40" y1="405.50" x2="96.40" y2="405.50" stroke="#a8132f" stroke-width="1.0" stroke-linecap="butt"/>
<circle cx="93.40" cy="391.10" r="1.45" fill="#a8132f"/>
<circle cx="90.00" cy="401.70" r="1.45" fill="#a8132f"/>
<circle cx="96.80" cy="401.70" r="1.45" fill="#a8132f"/>
<circle cx="93.40" cy="408.50" r="1.45" fill="#a8132f"/>
<circle cx="93.40" cy="414.40" r="1.45" fill="#a8132f"/>
<line x1="113.10" y1="384.60" x2="113.10" y2="394.00" stroke="#15355f" stroke-width="1.0" stroke-linecap="butt"/>
<line x1="110.10" y1="384.60" x2="116.10" y2="384.60" stroke="#15355f" stroke-width="1.0" stroke-linecap="butt"/>
<line x1="110.10" y1="394.00" x2="116.10" y2="394.00" stroke="#15355f" stroke-width="1.0" stroke-linecap="butt"/>
<circle cx="113.10" cy="366.20" r="1.45" fill="#15355f"/>
<circle cx="110.50" cy="389.40" r="1.45" fill="#15355f"/>
<circle cx="115.70" cy="389.40" r="1.45" fill="#15355f"/>
<circle cx="109.00" cy="392.60" r="1.45" fill="#15355f"/>
<circle cx="117.20" cy="392.60" r="1.45" fill="#15355f"/>
<circle cx="113.10" cy="395.80" r="1.45" fill="#15355f"/>
<circle cx="113.10" cy="397.90" r="1.45" fill="#15355f"/>
<line x1="45.80" y1="351.40" x2="45.80" y2="424.80" stroke="#2a2a2a" stroke-width="1.1" stroke-linecap="butt"/>
<line x1="42.80" y1="353.90" x2="45.80" y2="353.90" stroke="#2a2a2a" stroke-width="1.0" stroke-linecap="butt"/>
<text x="40.15" y="356.90" font-size="8.4" text-anchor="end" fill="#262626" color="#262626">400</text>
<line x1="42.80" y1="371.90" x2="45.80" y2="371.90" stroke="#2a2a2a" stroke-width="1.0" stroke-linecap="butt"/>
<text x="40.15" y="374.90" font-size="8.4" text-anchor="end" fill="#262626" color="#262626">300</text>
<line x1="42.80" y1="389.40" x2="45.80" y2="389.40" stroke="#2a2a2a" stroke-width="1.0" stroke-linecap="butt"/>
<text x="40.15" y="392.40" font-size="8.4" text-anchor="end" fill="#262626" color="#262626">200</text>
<line x1="42.80" y1="407.00" x2="45.80" y2="407.00" stroke="#2a2a2a" stroke-width="1.0" stroke-linecap="butt"/>
<text x="40.15" y="410.00" font-size="8.4" text-anchor="end" fill="#262626" color="#262626">100</text>
<line x1="42.80" y1="424.80" x2="45.80" y2="424.80" stroke="#2a2a2a" stroke-width="1.0" stroke-linecap="butt"/>
<text x="40.15" y="427.80" font-size="8.4" text-anchor="end" fill="#262626" color="#262626">0</text>
<line x1="45.80" y1="424.80" x2="122.60" y2="424.80" stroke="#2a2a2a" stroke-width="1.1" stroke-linecap="butt"/>
<line x1="53.80" y1="424.80" x2="53.80" y2="427.40" stroke="#2a2a2a" stroke-width="1.0" stroke-linecap="butt"/>
<line x1="74.00" y1="424.80" x2="74.00" y2="427.40" stroke="#2a2a2a" stroke-width="1.0" stroke-linecap="butt"/>
<line x1="93.40" y1="424.80" x2="93.40" y2="427.40" stroke="#2a2a2a" stroke-width="1.0" stroke-linecap="butt"/>
<line x1="113.10" y1="424.80" x2="113.10" y2="427.40" stroke="#2a2a2a" stroke-width="1.0" stroke-linecap="butt"/>
<path d="M93.40 359.80 V356.60 H113.10 V359.80" stroke="#2a2a2a" stroke-width="1.0" fill="none"/>
<circle cx="103.10" cy="351.30" r="1.15" fill="#222"/>
<line x1="49.60" y1="431.10" x2="77.10" y2="431.10" stroke="#3a3a3a" stroke-width="1.3" stroke-linecap="butt"/>
<line x1="89.80" y1="431.10" x2="117.70" y2="431.10" stroke="#3a3a3a" stroke-width="1.3" stroke-linecap="butt"/>
<text x="63.35" y="442.00" font-size="9.5" text-anchor="middle" fill="#262626" color="#262626" textLength="21.20" lengthAdjust="spacingAndGlyphs">Sham</text>
<text x="103.75" y="442.00" font-size="9.5" text-anchor="middle" fill="#262626" color="#262626" textLength="15.30" lengthAdjust="spacingAndGlyphs">CLP</text>
<text x="18.70" y="387.70" font-size="9.6" text-anchor="middle" fill="#262626" color="#262626" textLength="21.00" lengthAdjust="spacingAndGlyphs" transform="rotate(-90 18.70 387.70)">Pg/ml</text>
<text x="87.30" y="338.70" font-size="9.9" text-anchor="middle" fill="#262626" color="#262626" textLength="25.50" lengthAdjust="spacingAndGlyphs">TNF-α</text>
<rect x="176.90" y="423.50" width="10.60" height="1.30" fill="#f3b9b1"/>
<rect x="196.50" y="424.50" width="10.60" height="0.30" fill="#bec2df"/>
<rect x="216.25" y="408.00" width="11.30" height="16.80" fill="#f3b9b1"/>
<rect x="236.50" y="384.80" width="11.00" height="40.00" fill="#bec2df"/>
<circle cx="178.10" cy="424.60" r="1.45" fill="#a8132f"/>
<circle cx="182.20" cy="422.90" r="1.45" fill="#a8132f"/>
<circle cx="186.40" cy="424.30" r="1.45" fill="#a8132f"/>
<circle cx="198.20" cy="424.60" r="1.45" fill="#15355f"/>
<circle cx="201.80" cy="424.30" r="1.45" fill="#15355f"/>
<circle cx="206.10" cy="424.60" r="1.45" fill="#15355f"/>
<line x1="221.90" y1="401.70" x2="221.90" y2="412.30" stroke="#a8132f" stroke-width="1.0" stroke-linecap="butt"/>
<line x1="218.90" y1="401.70" x2="224.90" y2="401.70" stroke="#a8132f" stroke-width="1.0" stroke-linecap="butt"/>
<line x1="218.90" y1="412.30" x2="224.90" y2="412.30" stroke="#a8132f" stroke-width="1.0" stroke-linecap="butt"/>
<circle cx="221.90" cy="386.30" r="1.45" fill="#a8132f"/>
<circle cx="219.00" cy="402.50" r="1.45" fill="#a8132f"/>
<circle cx="224.80" cy="402.50" r="1.45" fill="#a8132f"/>
<circle cx="221.90" cy="406.30" r="1.45" fill="#a8132f"/>
<circle cx="221.90" cy="412.30" r="1.45" fill="#a8132f"/>
<circle cx="218.80" cy="418.60" r="1.45" fill="#a8132f"/>
<circle cx="225.20" cy="418.60" r="1.45" fill="#a8132f"/>
<line x1="242.00" y1="376.70" x2="242.00" y2="389.80" stroke="#15355f" stroke-width="1.0" stroke-linecap="butt"/>
<line x1="239.00" y1="376.70" x2="245.00" y2="376.70" stroke="#15355f" stroke-width="1.0" stroke-linecap="butt"/>
<line x1="239.00" y1="389.80" x2="245.00" y2="389.80" stroke="#15355f" stroke-width="1.0" stroke-linecap="butt"/>
<circle cx="242.00" cy="361.30" r="1.45" fill="#15355f"/>
<circle cx="242.00" cy="370.00" r="1.45" fill="#15355f"/>
<circle cx="242.00" cy="376.70" r="1.45" fill="#15355f"/>
<circle cx="238.90" cy="378.80" r="1.45" fill="#15355f"/>
<circle cx="244.80" cy="378.80" r="1.45" fill="#15355f"/>
<circle cx="242.00" cy="384.10" r="1.45" fill="#15355f"/>
<circle cx="242.00" cy="389.40" r="1.45" fill="#15355f"/>
<circle cx="239.30" cy="406.30" r="1.45" fill="#15355f"/>
<circle cx="244.80" cy="405.30" r="1.45" fill="#15355f"/>
<line x1="174.10" y1="351.40" x2="174.10" y2="424.80" stroke="#2a2a2a" stroke-width="1.1" stroke-linecap="butt"/>
<line x1="171.10" y1="353.90" x2="174.10" y2="353.90" stroke="#2a2a2a" stroke-width="1.0" stroke-linecap="butt"/>
<text x="167.45" y="356.90" font-size="8.4" text-anchor="end" fill="#262626" color="#262626">600</text>
<line x1="171.10" y1="377.40" x2="174.10" y2="377.40" stroke="#2a2a2a" stroke-width="1.0" stroke-linecap="butt"/>
<text x="167.45" y="380.40" font-size="8.4" text-anchor="end" fill="#262626" color="#262626">400</text>
<line x1="171.10" y1="401.10" x2="174.10" y2="401.10" stroke="#2a2a2a" stroke-width="1.0" stroke-linecap="butt"/>
<text x="167.45" y="404.10" font-size="8.4" text-anchor="end" fill="#262626" color="#262626">200</text>
<line x1="171.10" y1="424.80" x2="174.10" y2="424.80" stroke="#2a2a2a" stroke-width="1.0" stroke-linecap="butt"/>
<text x="167.45" y="427.80" font-size="8.4" text-anchor="end" fill="#262626" color="#262626">0</text>
<line x1="174.10" y1="424.80" x2="250.50" y2="424.80" stroke="#2a2a2a" stroke-width="1.1" stroke-linecap="butt"/>
<line x1="182.20" y1="424.80" x2="182.20" y2="427.40" stroke="#2a2a2a" stroke-width="1.0" stroke-linecap="butt"/>
<line x1="201.80" y1="424.80" x2="201.80" y2="427.40" stroke="#2a2a2a" stroke-width="1.0" stroke-linecap="butt"/>
<line x1="221.90" y1="424.80" x2="221.90" y2="427.40" stroke="#2a2a2a" stroke-width="1.0" stroke-linecap="butt"/>
<line x1="242.00" y1="424.80" x2="242.00" y2="427.40" stroke="#2a2a2a" stroke-width="1.0" stroke-linecap="butt"/>
<path d="M221.90 357.70 V354.50 H242.00 V357.70" stroke="#2a2a2a" stroke-width="1.0" fill="none"/>
<circle cx="232.10" cy="349.20" r="1.15" fill="#222"/>
<line x1="178.60" y1="431.10" x2="206.10" y2="431.10" stroke="#3a3a3a" stroke-width="1.3" stroke-linecap="butt"/>
<line x1="218.80" y1="431.10" x2="246.30" y2="431.10" stroke="#3a3a3a" stroke-width="1.3" stroke-linecap="butt"/>
<text x="192.35" y="442.00" font-size="9.5" text-anchor="middle" fill="#262626" color="#262626" textLength="21.20" lengthAdjust="spacingAndGlyphs">Sham</text>
<text x="232.55" y="442.00" font-size="9.5" text-anchor="middle" fill="#262626" color="#262626" textLength="15.30" lengthAdjust="spacingAndGlyphs">CLP</text>
<text x="148.30" y="387.70" font-size="9.6" text-anchor="middle" fill="#262626" color="#262626" textLength="21.00" lengthAdjust="spacingAndGlyphs" transform="rotate(-90 148.30 387.70)">Pg/ml</text>
<text x="216.20" y="338.70" font-size="9.9" text-anchor="middle" fill="#262626" color="#262626" textLength="19.50" lengthAdjust="spacingAndGlyphs">IL-1β</text>
<rect x="305.40" y="423.00" width="10.60" height="1.80" fill="#f3b9b1"/>
<rect x="325.50" y="424.00" width="10.60" height="0.80" fill="#bec2df"/>
<rect x="344.80" y="405.30" width="11.20" height="19.50" fill="#f3b9b1"/>
<rect x="365.00" y="391.10" width="11.00" height="33.70" fill="#bec2df"/>
<circle cx="307.10" cy="423.70" r="1.45" fill="#a8132f"/>
<circle cx="310.70" cy="422.90" r="1.45" fill="#a8132f"/>
<circle cx="314.30" cy="422.40" r="1.45" fill="#a8132f"/>
<circle cx="327.00" cy="424.30" r="1.45" fill="#15355f"/>
<circle cx="330.80" cy="423.90" r="1.45" fill="#15355f"/>
<circle cx="335.00" cy="423.70" r="1.45" fill="#15355f"/>
<line x1="350.40" y1="401.70" x2="350.40" y2="408.00" stroke="#a8132f" stroke-width="1.0" stroke-linecap="butt"/>
<line x1="347.40" y1="401.70" x2="353.40" y2="401.70" stroke="#a8132f" stroke-width="1.0" stroke-linecap="butt"/>
<line x1="347.40" y1="408.00" x2="353.40" y2="408.00" stroke="#a8132f" stroke-width="1.0" stroke-linecap="butt"/>
<circle cx="350.40" cy="386.90" r="1.45" fill="#a8132f"/>
<circle cx="350.40" cy="393.20" r="1.45" fill="#a8132f"/>
<circle cx="350.40" cy="398.30" r="1.45" fill="#a8132f"/>
<circle cx="347.70" cy="402.10" r="1.45" fill="#a8132f"/>
<circle cx="353.00" cy="402.10" r="1.45" fill="#a8132f"/>
<circle cx="350.40" cy="404.70" r="1.45" fill="#a8132f"/>
<circle cx="347.30" cy="411.60" r="1.45" fill="#a8132f"/>
<circle cx="355.70" cy="412.30" r="1.45" fill="#a8132f"/>
<circle cx="350.40" cy="415.90" r="1.45" fill="#a8132f"/>
<line x1="370.50" y1="383.50" x2="370.50" y2="399.00" stroke="#15355f" stroke-width="1.0" stroke-linecap="butt"/>
<line x1="367.50" y1="383.50" x2="373.50" y2="383.50" stroke="#15355f" stroke-width="1.0" stroke-linecap="butt"/>
<line x1="367.50" y1="399.00" x2="373.50" y2="399.00" stroke="#15355f" stroke-width="1.0" stroke-linecap="butt"/>
<circle cx="370.50" cy="370.40" r="1.45" fill="#15355f"/>
<circle cx="370.50" cy="376.30" r="1.45" fill="#15355f"/>
<circle cx="367.80" cy="397.90" r="1.45" fill="#15355f"/>
<circle cx="373.10" cy="399.00" r="1.45" fill="#15355f"/>
<circle cx="370.50" cy="408.50" r="1.45" fill="#15355f"/>
<line x1="302.80" y1="351.40" x2="302.80" y2="424.80" stroke="#2a2a2a" stroke-width="1.1" stroke-linecap="butt"/>
<line x1="299.80" y1="353.90" x2="302.80" y2="353.90" stroke="#2a2a2a" stroke-width="1.0" stroke-linecap="butt"/>
<text x="295.45" y="356.90" font-size="8.4" text-anchor="end" fill="#262626" color="#262626">5000</text>
<line x1="299.80" y1="368.30" x2="302.80" y2="368.30" stroke="#2a2a2a" stroke-width="1.0" stroke-linecap="butt"/>
<text x="295.45" y="371.30" font-size="8.4" text-anchor="end" fill="#262626" color="#262626">4000</text>
<line x1="299.80" y1="382.20" x2="302.80" y2="382.20" stroke="#2a2a2a" stroke-width="1.0" stroke-linecap="butt"/>
<text x="295.45" y="385.20" font-size="8.4" text-anchor="end" fill="#262626" color="#262626">3000</text>
<line x1="299.80" y1="396.40" x2="302.80" y2="396.40" stroke="#2a2a2a" stroke-width="1.0" stroke-linecap="butt"/>
<text x="295.45" y="399.40" font-size="8.4" text-anchor="end" fill="#262626" color="#262626">2000</text>
<line x1="299.80" y1="410.60" x2="302.80" y2="410.60" stroke="#2a2a2a" stroke-width="1.0" stroke-linecap="butt"/>
<text x="295.45" y="413.60" font-size="8.4" text-anchor="end" fill="#262626" color="#262626">1000</text>
<line x1="299.80" y1="424.80" x2="302.80" y2="424.80" stroke="#2a2a2a" stroke-width="1.0" stroke-linecap="butt"/>
<text x="295.45" y="427.80" font-size="8.4" text-anchor="end" fill="#262626" color="#262626">0</text>
<line x1="302.80" y1="424.80" x2="379.40" y2="424.80" stroke="#2a2a2a" stroke-width="1.1" stroke-linecap="butt"/>
<line x1="310.70" y1="424.80" x2="310.70" y2="427.40" stroke="#2a2a2a" stroke-width="1.0" stroke-linecap="butt"/>
<line x1="330.80" y1="424.80" x2="330.80" y2="427.40" stroke="#2a2a2a" stroke-width="1.0" stroke-linecap="butt"/>
<line x1="350.40" y1="424.80" x2="350.40" y2="427.40" stroke="#2a2a2a" stroke-width="1.0" stroke-linecap="butt"/>
<line x1="370.50" y1="424.80" x2="370.50" y2="427.40" stroke="#2a2a2a" stroke-width="1.0" stroke-linecap="butt"/>
<line x1="307.50" y1="431.10" x2="335.00" y2="431.10" stroke="#3a3a3a" stroke-width="1.3" stroke-linecap="butt"/>
<line x1="347.30" y1="431.10" x2="374.80" y2="431.10" stroke="#3a3a3a" stroke-width="1.3" stroke-linecap="butt"/>
<text x="321.25" y="442.00" font-size="9.5" text-anchor="middle" fill="#262626" color="#262626" textLength="21.20" lengthAdjust="spacingAndGlyphs">Sham</text>
<text x="361.05" y="442.00" font-size="9.5" text-anchor="middle" fill="#262626" color="#262626" textLength="15.30" lengthAdjust="spacingAndGlyphs">CLP</text>
<text x="272.80" y="387.70" font-size="9.6" text-anchor="middle" fill="#262626" color="#262626" textLength="21.00" lengthAdjust="spacingAndGlyphs" transform="rotate(-90 272.80 387.70)">Pg/ml</text>
<text x="345.00" y="338.70" font-size="9.9" text-anchor="middle" fill="#262626" color="#262626" textLength="19.30" lengthAdjust="spacingAndGlyphs">IL-10</text>
<rect x="439.60" y="424.50" width="10.60" height="0.30" fill="#f3b9b1"/>
<rect x="458.60" y="424.50" width="10.60" height="0.30" fill="#bec2df"/>
<rect x="479.20" y="393.70" width="10.60" height="31.10" fill="#f3b9b1"/>
<rect x="498.20" y="374.60" width="11.00" height="50.20" fill="#bec2df"/>
<circle cx="440.70" cy="424.60" r="1.45" fill="#a8132f"/>
<circle cx="444.90" cy="424.60" r="1.45" fill="#a8132f"/>
<circle cx="449.10" cy="424.60" r="1.45" fill="#a8132f"/>
<circle cx="460.30" cy="424.60" r="1.45" fill="#15355f"/>
<circle cx="463.90" cy="424.60" r="1.45" fill="#15355f"/>
<circle cx="468.20" cy="424.60" r="1.45" fill="#15355f"/>
<line x1="484.50" y1="386.30" x2="484.50" y2="399.60" stroke="#a8132f" stroke-width="1.0" stroke-linecap="butt"/>
<line x1="481.50" y1="386.30" x2="487.50" y2="386.30" stroke="#a8132f" stroke-width="1.0" stroke-linecap="butt"/>
<line x1="481.50" y1="399.60" x2="487.50" y2="399.60" stroke="#a8132f" stroke-width="1.0" stroke-linecap="butt"/>
<circle cx="480.20" cy="383.50" r="1.45" fill="#a8132f"/>
<circle cx="484.50" cy="385.20" r="1.45" fill="#a8132f"/>
<circle cx="488.90" cy="384.10" r="1.45" fill="#a8132f"/>
<circle cx="484.50" cy="396.20" r="1.45" fill="#a8132f"/>
<circle cx="484.50" cy="416.50" r="1.45" fill="#a8132f"/>
<line x1="503.70" y1="370.40" x2="503.70" y2="376.30" stroke="#15355f" stroke-width="1.0" stroke-linecap="butt"/>
<line x1="500.70" y1="370.40" x2="506.70" y2="370.40" stroke="#15355f" stroke-width="1.0" stroke-linecap="butt"/>
<line x1="500.70" y1="376.30" x2="506.70" y2="376.30" stroke="#15355f" stroke-width="1.0" stroke-linecap="butt"/>
<circle cx="499.90" cy="367.20" r="1.45" fill="#15355f"/>
<circle cx="503.50" cy="367.80" r="1.45" fill="#15355f"/>
<circle cx="508.40" cy="366.60" r="1.45" fill="#15355f"/>
<circle cx="500.50" cy="371.40" r="1.45" fill="#15355f"/>
<circle cx="506.90" cy="372.50" r="1.45" fill="#15355f"/>
<circle cx="503.10" cy="371.40" r="1.45" fill="#15355f"/>
<circle cx="500.50" cy="384.10" r="1.45" fill="#15355f"/>
<circle cx="506.90" cy="383.50" r="1.45" fill="#15355f"/>
<line x1="436.90" y1="351.40" x2="436.90" y2="424.80" stroke="#2a2a2a" stroke-width="1.1" stroke-linecap="butt"/>
<line x1="433.90" y1="353.90" x2="436.90" y2="353.90" stroke="#2a2a2a" stroke-width="1.0" stroke-linecap="butt"/>
<text x="429.95" y="356.90" font-size="8.4" text-anchor="end" fill="#262626" color="#262626">2500</text>
<line x1="433.90" y1="367.80" x2="436.90" y2="367.80" stroke="#2a2a2a" stroke-width="1.0" stroke-linecap="butt"/>
<text x="429.95" y="370.80" font-size="8.4" text-anchor="end" fill="#262626" color="#262626">2000</text>
<line x1="433.90" y1="382.20" x2="436.90" y2="382.20" stroke="#2a2a2a" stroke-width="1.0" stroke-linecap="butt"/>
<text x="429.95" y="385.20" font-size="8.4" text-anchor="end" fill="#262626" color="#262626">1500</text>
<line x1="433.90" y1="396.20" x2="436.90" y2="396.20" stroke="#2a2a2a" stroke-width="1.0" stroke-linecap="butt"/>
<text x="429.95" y="399.20" font-size="8.4" text-anchor="end" fill="#262626" color="#262626">1000</text>
<line x1="433.90" y1="410.60" x2="436.90" y2="410.60" stroke="#2a2a2a" stroke-width="1.0" stroke-linecap="butt"/>
<text x="429.95" y="413.60" font-size="8.4" text-anchor="end" fill="#262626" color="#262626">500</text>
<line x1="433.90" y1="424.80" x2="436.90" y2="424.80" stroke="#2a2a2a" stroke-width="1.0" stroke-linecap="butt"/>
<text x="429.95" y="427.80" font-size="8.4" text-anchor="end" fill="#262626" color="#262626">0</text>
<line x1="436.90" y1="424.80" x2="513.70" y2="424.80" stroke="#2a2a2a" stroke-width="1.1" stroke-linecap="butt"/>
<line x1="444.90" y1="424.80" x2="444.90" y2="427.40" stroke="#2a2a2a" stroke-width="1.0" stroke-linecap="butt"/>
<line x1="463.90" y1="424.80" x2="463.90" y2="427.40" stroke="#2a2a2a" stroke-width="1.0" stroke-linecap="butt"/>
<line x1="484.50" y1="424.80" x2="484.50" y2="427.40" stroke="#2a2a2a" stroke-width="1.0" stroke-linecap="butt"/>
<line x1="503.70" y1="424.80" x2="503.70" y2="427.40" stroke="#2a2a2a" stroke-width="1.0" stroke-linecap="butt"/>
<path d="M484.50 359.80 V356.60 H503.70 V359.80" stroke="#2a2a2a" stroke-width="1.0" fill="none"/>
<circle cx="494.20" cy="351.80" r="1.15" fill="#222"/>
<line x1="440.70" y1="431.10" x2="468.20" y2="431.10" stroke="#3a3a3a" stroke-width="1.3" stroke-linecap="butt"/>
<line x1="480.90" y1="431.10" x2="507.70" y2="431.10" stroke="#3a3a3a" stroke-width="1.3" stroke-linecap="butt"/>
<text x="454.45" y="442.00" font-size="9.5" text-anchor="middle" fill="#262626" color="#262626" textLength="21.20" lengthAdjust="spacingAndGlyphs">Sham</text>
<text x="494.30" y="442.00" font-size="9.5" text-anchor="middle" fill="#262626" color="#262626" textLength="15.30" lengthAdjust="spacingAndGlyphs">CLP</text>
<text x="405.10" y="387.70" font-size="9.6" text-anchor="middle" fill="#262626" color="#262626" textLength="21.00" lengthAdjust="spacingAndGlyphs" transform="rotate(-90 405.10 387.70)">Pg/ml</text>
<text x="478.00" y="338.70" font-size="9.9" text-anchor="middle" fill="#262626" color="#262626" textLength="15.00" lengthAdjust="spacingAndGlyphs">IL-6</text>
<rect x="148.00" y="448.00" width="10.00" height="9.50" fill="#f3b9b1"/>
<text x="163.00" y="455.50" font-size="8.2" text-anchor="start" fill="#262626" color="#262626"><tspan font-style="italic">Gsdmd</tspan><tspan font-size="5.8" dy="-3.0" font-style="italic" letter-spacing="0.55">f+/f+</tspan><tspan dy="3.0" font-style="italic"> Mrp8-Cre</tspan><tspan font-size="5.6" dy="-3.0">−</tspan></text>
<rect x="263.00" y="448.00" width="10.00" height="9.50" fill="#bec2df"/>
<text x="278.00" y="455.50" font-size="8.2" text-anchor="start" fill="#262626" color="#262626"><tspan font-style="italic">Gsdmd</tspan><tspan font-size="5.8" dy="-3.0" font-style="italic" letter-spacing="0.55">f+/f+</tspan><tspan dy="3.0" font-style="italic"> Mrp8-Cre</tspan><tspan font-size="5.6" dy="-3.0">+</tspan></text>
<text x="0.10" y="484.50" font-size="12" text-anchor="start" fill="#111" color="#111" font-weight="bold">F</text>
<rect x="53.50" y="541.50" width="14.80" height="31.20" fill="#f3b9b1"/>
<rect x="92.95" y="519.80" width="14.50" height="52.90" fill="#bec2df"/>
<line x1="60.90" y1="535.30" x2="60.90" y2="546.20" stroke="#a8132f" stroke-width="1.0" stroke-linecap="butt"/>
<line x1="57.90" y1="535.30" x2="63.90" y2="535.30" stroke="#a8132f" stroke-width="1.0" stroke-linecap="butt"/>
<line x1="57.90" y1="546.20" x2="63.90" y2="546.20" stroke="#a8132f" stroke-width="1.0" stroke-linecap="butt"/>
<line x1="100.20" y1="516.20" x2="100.20" y2="523.50" stroke="#15355f" stroke-width="1.0" stroke-linecap="butt"/>
<line x1="97.20" y1="516.20" x2="103.20" y2="516.20" stroke="#15355f" stroke-width="1.0" stroke-linecap="butt"/>
<line x1="97.20" y1="523.50" x2="103.20" y2="523.50" stroke="#15355f" stroke-width="1.0" stroke-linecap="butt"/>
<circle cx="60.90" cy="529.50" r="1.45" fill="#a8132f"/>
<circle cx="60.90" cy="543.40" r="1.45" fill="#a8132f"/>
<circle cx="60.90" cy="550.30" r="1.45" fill="#a8132f"/>
<rect x="98.90" y="507.90" width="2.60" height="2.60" fill="#15355f"/>
<rect x="97.50" y="517.60" width="2.60" height="2.60" fill="#15355f"/>
<rect x="100.30" y="517.60" width="2.60" height="2.60" fill="#15355f"/>
<rect x="98.90" y="525.20" width="2.60" height="2.60" fill="#15355f"/>
<line x1="45.40" y1="499.30" x2="45.40" y2="572.70" stroke="#2a2a2a" stroke-width="1.1" stroke-linecap="butt"/>
<line x1="42.40" y1="501.80" x2="45.40" y2="501.80" stroke="#2a2a2a" stroke-width="1.0" stroke-linecap="butt"/>
<text x="39.25" y="504.80" font-size="8.4" text-anchor="end" fill="#262626" color="#262626">1.0</text>
<line x1="42.40" y1="516.20" x2="45.40" y2="516.20" stroke="#2a2a2a" stroke-width="1.0" stroke-linecap="butt"/>
<text x="39.25" y="519.20" font-size="8.4" text-anchor="end" fill="#262626" color="#262626">0.8</text>
<line x1="42.40" y1="530.50" x2="45.40" y2="530.50" stroke="#2a2a2a" stroke-width="1.0" stroke-linecap="butt"/>
<text x="39.25" y="533.50" font-size="8.4" text-anchor="end" fill="#262626" color="#262626">0.6</text>
<line x1="42.40" y1="544.50" x2="45.40" y2="544.50" stroke="#2a2a2a" stroke-width="1.0" stroke-linecap="butt"/>
<text x="39.25" y="547.50" font-size="8.4" text-anchor="end" fill="#262626" color="#262626">0.4</text>
<line x1="42.40" y1="558.80" x2="45.40" y2="558.80" stroke="#2a2a2a" stroke-width="1.0" stroke-linecap="butt"/>
<text x="39.25" y="561.80" font-size="8.4" text-anchor="end" fill="#262626" color="#262626">0.2</text>
<line x1="42.40" y1="572.70" x2="45.40" y2="572.70" stroke="#2a2a2a" stroke-width="1.0" stroke-linecap="butt"/>
<text x="39.25" y="575.70" font-size="8.4" text-anchor="end" fill="#262626" color="#262626">0.0</text>
<line x1="45.40" y1="572.70" x2="114.70" y2="572.70" stroke="#2a2a2a" stroke-width="1.1" stroke-linecap="butt"/>
<line x1="60.90" y1="572.70" x2="60.90" y2="575.70" stroke="#2a2a2a" stroke-width="1.0" stroke-linecap="butt"/>
<line x1="100.20" y1="572.70" x2="100.20" y2="575.70" stroke="#2a2a2a" stroke-width="1.0" stroke-linecap="butt"/>
<path d="M60.9 511.5 V500.7 H100.2 V506.5" stroke="#2a2a2a" stroke-width="1.0" fill="none"/>
<circle cx="80.80" cy="496.50" r="1.15" fill="#222"/>
<text x="80.40" y="489.00" font-size="9.3" text-anchor="middle" fill="#262626" color="#262626" textLength="17.00" lengthAdjust="spacingAndGlyphs">LDH</text>
<text x="21.30" y="536.30" font-size="10.0" text-anchor="middle" fill="#262626" color="#262626" textLength="71.50" lengthAdjust="spacingAndGlyphs" transform="rotate(-90 21.30 536.30)">Relative absorbance</text>
<text x="140.60" y="484.60" font-size="12" text-anchor="start" fill="#111" color="#111" font-weight="bold">G</text>
<rect x="183.75" y="535.00" width="17.50" height="37.50" fill="#f3b9b1"/>
<rect x="230.00" y="526.30" width="18.00" height="46.20" fill="#bec2df"/>
<line x1="192.50" y1="532.00" x2="192.50" y2="539.00" stroke="#a8132f" stroke-width="1.0" stroke-linecap="butt"/>
<line x1="189.50" y1="532.00" x2="195.50" y2="532.00" stroke="#a8132f" stroke-width="1.0" stroke-linecap="butt"/>
<line x1="189.50" y1="539.00" x2="195.50" y2="539.00" stroke="#a8132f" stroke-width="1.0" stroke-linecap="butt"/>
<line x1="239.00" y1="523.80" x2="239.00" y2="528.80" stroke="#15355f" stroke-width="1.0" stroke-linecap="butt"/>
<line x1="236.00" y1="523.80" x2="242.00" y2="523.80" stroke="#15355f" stroke-width="1.0" stroke-linecap="butt"/>
<line x1="236.00" y1="528.80" x2="242.00" y2="528.80" stroke="#15355f" stroke-width="1.0" stroke-linecap="butt"/>
<circle cx="188.60" cy="519.70" r="1.45" fill="#a8132f"/>
<circle cx="196.30" cy="518.30" r="1.45" fill="#a8132f"/>
<circle cx="192.50" cy="521.40" r="1.45" fill="#a8132f"/>
<circle cx="196.30" cy="522.50" r="1.45" fill="#a8132f"/>
<circle cx="192.50" cy="524.10" r="1.45" fill="#a8132f"/>
<circle cx="184.80" cy="528.30" r="1.45" fill="#a8132f"/>
<circle cx="188.60" cy="530.50" r="1.45" fill="#a8132f"/>
<circle cx="192.50" cy="528.30" r="1.45" fill="#a8132f"/>
<circle cx="196.60" cy="530.50" r="1.45" fill="#a8132f"/>
<circle cx="200.50" cy="529.10" r="1.45" fill="#a8132f"/>
<circle cx="192.50" cy="532.20" r="1.45" fill="#a8132f"/>
<circle cx="192.50" cy="539.10" r="1.45" fill="#a8132f"/>
<circle cx="192.50" cy="546.00" r="1.45" fill="#a8132f"/>
<circle cx="188.60" cy="554.00" r="1.45" fill="#a8132f"/>
<circle cx="192.50" cy="553.60" r="1.45" fill="#a8132f"/>
<circle cx="196.60" cy="555.00" r="1.45" fill="#a8132f"/>
<circle cx="188.60" cy="557.80" r="1.45" fill="#a8132f"/>
<rect x="237.70" y="503.20" width="2.60" height="2.60" fill="#15355f"/>
<rect x="237.60" y="513.10" width="2.60" height="2.60" fill="#15355f"/>
<rect x="240.30" y="516.30" width="2.60" height="2.60" fill="#15355f"/>
<rect x="229.90" y="519.10" width="2.60" height="2.60" fill="#15355f"/>
<rect x="245.20" y="519.10" width="2.60" height="2.60" fill="#15355f"/>
<rect x="234.80" y="520.50" width="2.60" height="2.60" fill="#15355f"/>
<rect x="239.60" y="521.90" width="2.60" height="2.60" fill="#15355f"/>
<rect x="229.90" y="523.90" width="2.60" height="2.60" fill="#15355f"/>
<rect x="234.80" y="526.70" width="2.60" height="2.60" fill="#15355f"/>
<rect x="239.60" y="525.30" width="2.60" height="2.60" fill="#15355f"/>
<rect x="245.20" y="525.60" width="2.60" height="2.60" fill="#15355f"/>
<rect x="239.60" y="530.20" width="2.60" height="2.60" fill="#15355f"/>
<rect x="245.20" y="530.90" width="2.60" height="2.60" fill="#15355f"/>
<rect x="229.90" y="530.90" width="2.60" height="2.60" fill="#15355f"/>
<rect x="239.60" y="533.70" width="2.60" height="2.60" fill="#15355f"/>
<rect x="234.80" y="536.10" width="2.60" height="2.60" fill="#15355f"/>
<line x1="173.50" y1="499.50" x2="173.50" y2="572.50" stroke="#2a2a2a" stroke-width="1.1" stroke-linecap="butt"/>
<line x1="170.50" y1="502.00" x2="173.50" y2="502.00" stroke="#2a2a2a" stroke-width="1.0" stroke-linecap="butt"/>
<text x="168.15" y="505.00" font-size="8.4" text-anchor="end" fill="#262626" color="#262626">10</text>
<line x1="170.50" y1="525.50" x2="173.50" y2="525.50" stroke="#2a2a2a" stroke-width="1.0" stroke-linecap="butt"/>
<text x="168.15" y="528.50" font-size="8.4" text-anchor="end" fill="#262626" color="#262626">8</text>
<line x1="170.50" y1="549.50" x2="173.50" y2="549.50" stroke="#2a2a2a" stroke-width="1.0" stroke-linecap="butt"/>
<text x="168.15" y="552.50" font-size="8.4" text-anchor="end" fill="#262626" color="#262626">6</text>
<line x1="170.50" y1="572.50" x2="173.50" y2="572.50" stroke="#2a2a2a" stroke-width="1.0" stroke-linecap="butt"/>
<text x="168.15" y="575.50" font-size="8.4" text-anchor="end" fill="#262626" color="#262626">4</text>
<line x1="173.50" y1="572.50" x2="252.00" y2="572.50" stroke="#2a2a2a" stroke-width="1.1" stroke-linecap="butt"/>
<line x1="192.50" y1="572.50" x2="192.50" y2="575.50" stroke="#2a2a2a" stroke-width="1.0" stroke-linecap="butt"/>
<line x1="239.00" y1="572.50" x2="239.00" y2="575.50" stroke="#2a2a2a" stroke-width="1.0" stroke-linecap="butt"/>
<path d="M192.5 515.0 V496.3 H239.0 V499.5" stroke="#2a2a2a" stroke-width="1.1" fill="none"/>
<circle cx="215.60" cy="492.10" r="1.15" fill="#222"/>
<text x="215.50" y="485.60" font-size="9.2" text-anchor="middle" fill="#262626" color="#262626" textLength="17.10" lengthAdjust="spacingAndGlyphs">CFU</text>
<text x="152.00" y="536.20" font-size="9.0" text-anchor="middle" fill="#262626" color="#262626" textLength="29.30" lengthAdjust="spacingAndGlyphs" transform="rotate(-90 152.00 536.20)">Log CFU</text>
<text x="273.90" y="484.40" font-size="12" text-anchor="start" fill="#111" color="#111" font-weight="bold">H</text>
<rect x="334.95" y="554.00" width="15.90" height="19.20" fill="#f3b9b1"/>
<rect x="361.35" y="548.00" width="15.70" height="25.20" fill="#bec2df"/>
<line x1="342.90" y1="550.50" x2="342.90" y2="557.50" stroke="#a8132f" stroke-width="1.0" stroke-linecap="butt"/>
<line x1="339.90" y1="550.50" x2="345.90" y2="550.50" stroke="#a8132f" stroke-width="1.0" stroke-linecap="butt"/>
<line x1="339.90" y1="557.50" x2="345.90" y2="557.50" stroke="#a8132f" stroke-width="1.0" stroke-linecap="butt"/>
<line x1="369.20" y1="531.80" x2="369.20" y2="562.30" stroke="#15355f" stroke-width="1.0" stroke-linecap="butt"/>
<line x1="366.20" y1="531.80" x2="372.20" y2="531.80" stroke="#15355f" stroke-width="1.0" stroke-linecap="butt"/>
<line x1="366.20" y1="562.30" x2="372.20" y2="562.30" stroke="#15355f" stroke-width="1.0" stroke-linecap="butt"/>
<circle cx="340.60" cy="549.80" r="1.45" fill="#a8132f"/>
<circle cx="345.30" cy="549.30" r="1.45" fill="#a8132f"/>
<circle cx="350.20" cy="548.80" r="1.45" fill="#a8132f"/>
<circle cx="335.40" cy="555.00" r="1.45" fill="#a8132f"/>
<circle cx="339.90" cy="555.90" r="1.45" fill="#a8132f"/>
<circle cx="345.30" cy="553.60" r="1.45" fill="#a8132f"/>
<circle cx="335.40" cy="557.90" r="1.45" fill="#a8132f"/>
<circle cx="342.80" cy="557.30" r="1.45" fill="#a8132f"/>
<circle cx="345.30" cy="557.60" r="1.45" fill="#a8132f"/>
<circle cx="350.20" cy="557.20" r="1.45" fill="#a8132f"/>
<rect x="367.90" y="516.00" width="2.60" height="2.60" fill="#15355f"/>
<rect x="367.90" y="544.40" width="2.60" height="2.60" fill="#15355f"/>
<rect x="365.20" y="551.30" width="2.60" height="2.60" fill="#15355f"/>
<rect x="370.90" y="551.30" width="2.60" height="2.60" fill="#15355f"/>
<rect x="365.20" y="556.90" width="2.60" height="2.60" fill="#15355f"/>
<rect x="370.90" y="556.90" width="2.60" height="2.60" fill="#15355f"/>
<line x1="325.70" y1="499.80" x2="325.70" y2="573.20" stroke="#2a2a2a" stroke-width="1.1" stroke-linecap="butt"/>
<line x1="322.70" y1="502.30" x2="325.70" y2="502.30" stroke="#2a2a2a" stroke-width="1.0" stroke-linecap="butt"/>
<text x="319.75" y="505.30" font-size="8.4" text-anchor="end" fill="#262626" color="#262626">200</text>
<line x1="322.70" y1="520.10" x2="325.70" y2="520.10" stroke="#2a2a2a" stroke-width="1.0" stroke-linecap="butt"/>
<text x="319.75" y="523.10" font-size="8.4" text-anchor="end" fill="#262626" color="#262626">150</text>
<line x1="322.70" y1="537.60" x2="325.70" y2="537.60" stroke="#2a2a2a" stroke-width="1.0" stroke-linecap="butt"/>
<text x="319.75" y="540.60" font-size="8.4" text-anchor="end" fill="#262626" color="#262626">100</text>
<line x1="322.70" y1="555.40" x2="325.70" y2="555.40" stroke="#2a2a2a" stroke-width="1.0" stroke-linecap="butt"/>
<text x="319.75" y="558.40" font-size="8.4" text-anchor="end" fill="#262626" color="#262626">50</text>
<line x1="322.70" y1="573.20" x2="325.70" y2="573.20" stroke="#2a2a2a" stroke-width="1.0" stroke-linecap="butt"/>
<text x="319.75" y="576.20" font-size="8.4" text-anchor="end" fill="#262626" color="#262626">0</text>
<line x1="325.70" y1="573.20" x2="386.10" y2="573.20" stroke="#2a2a2a" stroke-width="1.1" stroke-linecap="butt"/>
<line x1="342.90" y1="573.20" x2="342.90" y2="576.00" stroke="#2a2a2a" stroke-width="1.0" stroke-linecap="butt"/>
<line x1="369.20" y1="573.20" x2="369.20" y2="576.00" stroke="#2a2a2a" stroke-width="1.0" stroke-linecap="butt"/>
<text x="356.70" y="489.60" font-size="8.6" text-anchor="middle" fill="#262626" color="#262626" textLength="45.00" lengthAdjust="spacingAndGlyphs">NETs in PB</text>
<text x="286.20" y="535.90" font-size="9.0" text-anchor="middle" fill="#262626" color="#262626" textLength="37.60" lengthAdjust="spacingAndGlyphs" transform="rotate(-90 286.20 535.90)">NETs in PB</text>
<text x="298.30" y="536.20" font-size="9.0" text-anchor="middle" fill="#262626" color="#262626" textLength="65.40" lengthAdjust="spacingAndGlyphs" transform="rotate(-90 298.30 536.20)">(MPO/DNA ng/ml)</text>
<rect x="458.80" y="539.20" width="11.60" height="34.00" fill="#f3b9b1"/>
<rect x="479.15" y="535.30" width="11.50" height="37.90" fill="#bec2df"/>
<line x1="464.60" y1="525.40" x2="464.60" y2="552.60" stroke="#a8132f" stroke-width="1.0" stroke-linecap="butt"/>
<line x1="461.60" y1="525.40" x2="467.60" y2="525.40" stroke="#a8132f" stroke-width="1.0" stroke-linecap="butt"/>
<line x1="461.60" y1="552.60" x2="467.60" y2="552.60" stroke="#a8132f" stroke-width="1.0" stroke-linecap="butt"/>
<line x1="484.90" y1="524.40" x2="484.90" y2="545.00" stroke="#15355f" stroke-width="1.0" stroke-linecap="butt"/>
<line x1="481.90" y1="524.40" x2="487.90" y2="524.40" stroke="#15355f" stroke-width="1.0" stroke-linecap="butt"/>
<line x1="481.90" y1="545.00" x2="487.90" y2="545.00" stroke="#15355f" stroke-width="1.0" stroke-linecap="butt"/>
<circle cx="464.90" cy="518.50" r="1.45" fill="#a8132f"/>
<circle cx="464.90" cy="528.00" r="1.45" fill="#a8132f"/>
<circle cx="462.50" cy="533.10" r="1.45" fill="#a8132f"/>
<circle cx="467.00" cy="531.70" r="1.45" fill="#a8132f"/>
<circle cx="464.90" cy="540.80" r="1.45" fill="#a8132f"/>
<circle cx="464.90" cy="546.90" r="1.45" fill="#a8132f"/>
<circle cx="464.90" cy="553.00" r="1.45" fill="#a8132f"/>
<circle cx="464.90" cy="559.30" r="1.45" fill="#a8132f"/>
<rect x="483.50" y="518.20" width="2.60" height="2.60" fill="#15355f"/>
<rect x="483.50" y="527.80" width="2.60" height="2.60" fill="#15355f"/>
<rect x="481.40" y="532.80" width="2.60" height="2.60" fill="#15355f"/>
<rect x="486.10" y="531.00" width="2.60" height="2.60" fill="#15355f"/>
<rect x="481.40" y="544.60" width="2.60" height="2.60" fill="#15355f"/>
<rect x="485.60" y="543.80" width="2.60" height="2.60" fill="#15355f"/>
<line x1="451.00" y1="499.30" x2="451.00" y2="573.20" stroke="#2a2a2a" stroke-width="1.1" stroke-linecap="butt"/>
<line x1="448.00" y1="501.80" x2="451.00" y2="501.80" stroke="#2a2a2a" stroke-width="1.0" stroke-linecap="butt"/>
<text x="443.95" y="504.80" font-size="8.4" text-anchor="end" fill="#262626" color="#262626">1000</text>
<line x1="448.00" y1="516.20" x2="451.00" y2="516.20" stroke="#2a2a2a" stroke-width="1.0" stroke-linecap="butt"/>
<text x="443.95" y="519.20" font-size="8.4" text-anchor="end" fill="#262626" color="#262626">800</text>
<line x1="448.00" y1="530.50" x2="451.00" y2="530.50" stroke="#2a2a2a" stroke-width="1.0" stroke-linecap="butt"/>
<text x="443.95" y="533.50" font-size="8.4" text-anchor="end" fill="#262626" color="#262626">600</text>
<line x1="448.00" y1="544.50" x2="451.00" y2="544.50" stroke="#2a2a2a" stroke-width="1.0" stroke-linecap="butt"/>
<text x="443.95" y="547.50" font-size="8.4" text-anchor="end" fill="#262626" color="#262626">400</text>
<line x1="448.00" y1="558.80" x2="451.00" y2="558.80" stroke="#2a2a2a" stroke-width="1.0" stroke-linecap="butt"/>
<text x="443.95" y="561.80" font-size="8.4" text-anchor="end" fill="#262626" color="#262626">200</text>
<line x1="448.00" y1="573.20" x2="451.00" y2="573.20" stroke="#2a2a2a" stroke-width="1.0" stroke-linecap="butt"/>
<text x="443.95" y="576.20" font-size="8.4" text-anchor="end" fill="#262626" color="#262626">0</text>
<line x1="451.00" y1="573.20" x2="498.30" y2="573.20" stroke="#2a2a2a" stroke-width="1.1" stroke-linecap="butt"/>
<line x1="464.60" y1="573.20" x2="464.60" y2="576.00" stroke="#2a2a2a" stroke-width="1.0" stroke-linecap="butt"/>
<line x1="484.90" y1="573.20" x2="484.90" y2="576.00" stroke="#2a2a2a" stroke-width="1.0" stroke-linecap="butt"/>
<text x="474.40" y="489.60" font-size="8.6" text-anchor="middle" fill="#262626" color="#262626" textLength="45.00" lengthAdjust="spacingAndGlyphs">NETs in PC</text>
<text x="412.60" y="534.80" font-size="9.0" text-anchor="middle" fill="#262626" color="#262626" textLength="39.90" lengthAdjust="spacingAndGlyphs" transform="rotate(-90 412.60 534.80)">NETs in PC</text>
<text x="424.00" y="535.90" font-size="9.0" text-anchor="middle" fill="#262626" color="#262626" textLength="66.20" lengthAdjust="spacingAndGlyphs" transform="rotate(-90 424.00 535.90)">(MPO/DNA ng/ml)</text>
<rect x="141.00" y="588.00" width="9.00" height="10.00" fill="#f3b9b1"/>
<text x="156.00" y="596.00" font-size="8.2" text-anchor="start" fill="#262626" color="#262626"><tspan font-style="italic">Gsdmd</tspan><tspan font-size="5.8" dy="-3.0" font-style="italic" letter-spacing="0.55">f+/f+</tspan><tspan dy="3.0" font-style="italic"> Mrp8-Cre</tspan><tspan font-size="5.6" dy="-3.0">−</tspan></text>
<rect x="256.00" y="588.00" width="9.00" height="10.00" fill="#bec2df"/>
<text x="271.00" y="596.00" font-size="8.2" text-anchor="start" fill="#262626" color="#262626"><tspan font-style="italic">Gsdmd</tspan><tspan font-size="5.8" dy="-3.0" font-style="italic" letter-spacing="0.55">f+/f+</tspan><tspan dy="3.0" font-style="italic"> Mrp8-Cre</tspan><tspan font-size="5.6" dy="-3.0">+</tspan></text>
</svg>
</body></html>
